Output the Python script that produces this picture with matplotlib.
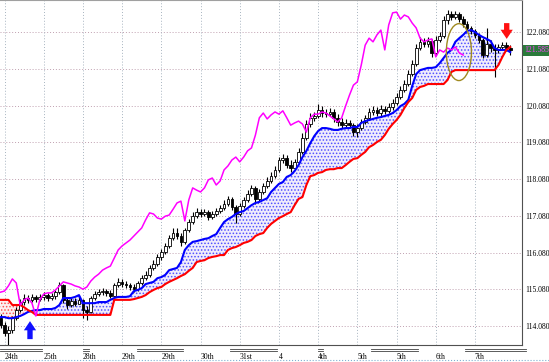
#一目均衡表风格的K线图 (MT4截图复刻)
import numpy as np
import matplotlib.pyplot as plt
import matplotlib.transforms as mtransforms
from matplotlib.patches import Ellipse

plt.rcParams['font.family'] = ['Liberation Serif', 'DejaVu Sans']
plt.rcParams['hatch.linewidth'] = 0.7

# K线数据
opens = [
    114.29, 114.10, 113.89, 113.97, 114.29, 114.51, 114.73, 114.84, 114.79, 114.87,
    114.81, 114.87, 114.92, 114.84, 114.89, 115.00, 115.19, 114.79, 114.65, 114.76,
    114.68, 114.79, 114.51, 114.46, 114.84, 114.95, 115.00, 115.03, 114.98, 114.89,
    115.19, 115.28, 115.22, 115.19, 115.14, 115.08, 115.25, 115.38, 115.47, 115.66,
    115.77, 115.96, 116.09, 116.26, 116.47, 116.61, 116.53, 116.37, 116.69, 116.91,
    117.07, 117.18, 117.13, 117.18, 117.05, 117.13, 117.21, 117.29, 117.40, 117.54,
    117.32, 117.13, 117.35, 117.51, 117.67, 117.84, 117.54, 117.73, 117.89, 118.03,
    118.16, 118.33, 118.60, 118.65, 118.46, 118.38, 118.55, 118.82, 119.20, 119.58,
    119.75, 119.80, 119.96, 119.88, 119.85, 119.91, 119.75, 119.64, 119.55, 119.61,
    119.55, 119.36, 119.47, 119.64, 119.75, 119.91, 119.96, 119.88, 119.99, 119.94,
    120.04, 120.15, 120.32, 120.51, 120.67, 120.94, 121.22, 121.65, 121.82, 121.76,
    121.84, 121.52, 121.87, 121.98, 122.42, 122.58, 122.50, 122.58, 122.44, 122.31,
    122.20, 122.12, 122.01, 121.87, 121.46, 121.76, 121.65, 121.60, 121.68, 121.73,
    121.65]
highs = [
    114.40, 114.19, 114.08, 114.35, 114.59, 114.81, 114.95, 114.92, 114.95, 114.92,
    114.95, 115.00, 114.98, 114.98, 115.06, 115.28, 115.22, 114.87, 114.84, 114.84,
    114.87, 114.81, 114.62, 114.89, 115.03, 115.08, 115.11, 115.08, 115.06, 115.25,
    115.38, 115.36, 115.30, 115.25, 115.22, 115.30, 115.47, 115.58, 115.74, 115.87,
    116.04, 116.17, 116.34, 116.56, 116.75, 116.75, 116.61, 116.75, 116.99, 117.18,
    117.29, 117.26, 117.26, 117.24, 117.21, 117.29, 117.37, 117.51, 117.62, 117.59,
    117.37, 117.43, 117.59, 117.78, 117.92, 117.89, 117.81, 117.97, 118.14, 118.27,
    118.44, 118.68, 118.76, 118.74, 118.60, 118.63, 118.93, 119.34, 119.69, 119.88,
    119.91, 120.13, 120.07, 119.99, 120.02, 119.99, 119.85, 119.75, 119.72, 119.69,
    119.61, 119.58, 119.72, 119.83, 120.02, 120.07, 120.04, 120.10, 120.07, 120.15,
    120.26, 120.42, 120.62, 120.78, 121.05, 121.33, 121.76, 121.95, 121.92, 121.95,
    121.90, 121.98, 122.09, 122.52, 122.69, 122.66, 122.66, 122.63, 122.52, 122.39,
    122.25, 122.17, 122.06, 121.92, 122.20, 121.87, 121.76, 121.76, 121.82, 121.82,
    121.73]
lows = [
    114.02, 113.80, 113.56, 113.89, 114.24, 114.46, 114.65, 114.70, 114.73, 114.73,
    114.76, 114.79, 114.76, 114.79, 114.81, 114.95, 114.70, 114.54, 114.59, 114.62,
    114.68, 114.29, 114.24, 114.43, 114.79, 114.89, 114.92, 114.89, 114.84, 114.87,
    115.14, 115.14, 115.11, 115.06, 115.00, 115.03, 115.19, 115.33, 115.41, 115.60,
    115.71, 115.87, 116.04, 116.20, 116.42, 116.45, 116.26, 116.31, 116.64, 116.86,
    117.02, 117.05, 117.07, 116.97, 116.99, 117.07, 117.16, 117.24, 117.35, 117.24,
    116.88, 117.07, 117.29, 117.46, 117.62, 117.40, 117.48, 117.67, 117.84, 117.97,
    118.11, 118.27, 118.52, 118.38, 118.27, 118.33, 118.49, 118.76, 119.15, 119.50,
    119.66, 119.75, 119.77, 119.77, 119.80, 119.64, 119.53, 119.47, 119.50, 119.47,
    119.25, 119.23, 119.42, 119.58, 119.69, 119.83, 119.80, 119.80, 119.85, 119.88,
    119.96, 120.10, 120.26, 120.45, 120.62, 120.89, 121.16, 121.60, 121.68, 121.68,
    121.41, 121.46, 121.82, 121.92, 122.31, 122.42, 122.44, 122.36, 122.22, 122.12,
    122.03, 121.92, 121.79, 121.38, 121.41, 121.54, 120.86, 121.52, 121.62, 121.57,
    121.46]
closes = [
    114.10, 113.89, 113.97, 114.29, 114.51, 114.73, 114.84, 114.79, 114.87, 114.81,
    114.87, 114.92, 114.84, 114.89, 115.00, 115.19, 114.79, 114.65, 114.76, 114.68,
    114.79, 114.51, 114.46, 114.84, 114.95, 115.00, 115.03, 114.98, 114.89, 115.19,
    115.28, 115.22, 115.19, 115.14, 115.08, 115.25, 115.38, 115.47, 115.66, 115.77,
    115.96, 116.09, 116.26, 116.47, 116.61, 116.53, 116.37, 116.69, 116.91, 117.07,
    117.18, 117.13, 117.18, 117.05, 117.13, 117.21, 117.29, 117.40, 117.54, 117.32,
    117.13, 117.35, 117.51, 117.67, 117.84, 117.54, 117.73, 117.89, 118.03, 118.16,
    118.33, 118.60, 118.65, 118.46, 118.38, 118.55, 118.82, 119.20, 119.58, 119.75,
    119.80, 119.96, 119.88, 119.85, 119.91, 119.75, 119.64, 119.55, 119.61, 119.55,
    119.36, 119.47, 119.64, 119.75, 119.91, 119.96, 119.88, 119.99, 119.94, 120.04,
    120.15, 120.32, 120.51, 120.67, 120.94, 121.22, 121.65, 121.82, 121.76, 121.84,
    121.52, 121.87, 121.98, 122.42, 122.58, 122.50, 122.58, 122.44, 122.31, 122.20,
    122.12, 122.01, 121.87, 121.46, 121.76, 121.65, 121.60, 121.68, 121.73, 121.65,
    121.585]

# 先行スパン (蓝线 / 红线)
span_a = [
    114.32, 114.32, 114.29, 114.29, 114.32, 114.35, 114.40, 114.46, 114.49, 114.51,
    114.51, 114.54, 114.54, 114.54, 114.57, 114.65, 114.84, 114.84, 114.84, 114.87,
    114.92, 114.70, 114.70, 114.70, 114.70, 114.73, 114.73, 114.73, 114.79, 114.84,
    114.87, 114.87, 114.87, 114.89, 115.03, 115.06, 115.11, 115.22, 115.25, 115.28,
    115.38, 115.41, 115.47, 115.60, 115.63, 115.66, 115.82, 116.15, 116.28, 116.37,
    116.39, 116.42, 116.45, 116.47, 116.53, 116.58, 116.75, 116.91, 116.99, 117.05,
    117.13, 117.18, 117.21, 117.29, 117.37, 117.43, 117.46, 117.51, 117.56, 117.73,
    117.84, 117.95, 118.00, 118.14, 118.19, 118.30, 118.46, 118.68, 118.85, 119.06,
    119.25, 119.39, 119.47, 119.47, 119.45, 119.42, 119.42, 119.45, 119.47, 119.47,
    119.50, 119.50, 119.61, 119.66, 119.69, 119.72, 119.75, 119.77, 119.80, 119.83,
    119.88, 119.96, 120.07, 120.13, 120.24, 120.62, 120.94, 121.05, 121.08, 121.11,
    121.11, 121.13, 121.24, 121.38, 121.52, 121.60, 121.82, 121.92, 122.01, 122.12,
    122.14, 122.09, 122.01, 121.95, 121.90, 121.84, 121.65, 121.60, 121.60, 121.60,
    121.54]
span_b = [
    114.79, 114.79, 114.79, 114.65, 114.65, 114.65, 114.59, 114.51, 114.46, 114.38,
    114.38, 114.38, 114.38, 114.38, 114.38, 114.38, 114.38, 114.38, 114.38, 114.38,
    114.38, 114.38, 114.38, 114.38, 114.38, 114.38, 114.38, 114.38, 114.38, 114.79,
    114.79, 114.79, 114.79, 114.79, 114.81, 114.84, 114.87, 114.92, 115.00, 115.06,
    115.11, 115.14, 115.22, 115.28, 115.33, 115.38, 115.44, 115.49, 115.58, 115.66,
    115.82, 115.85, 115.87, 115.93, 115.96, 115.98, 116.01, 116.01, 116.15, 116.20,
    116.23, 116.28, 116.34, 116.37, 116.42, 116.53, 116.58, 116.61, 116.75, 116.86,
    116.94, 117.02, 117.07, 117.13, 117.18, 117.37, 117.54, 117.59, 117.92, 118.16,
    118.19, 118.25, 118.27, 118.33, 118.35, 118.35, 118.38, 118.38, 118.46, 118.55,
    118.63, 118.65, 118.74, 118.82, 118.95, 119.01, 119.09, 119.15, 119.28, 119.45,
    119.58, 119.69, 119.83, 120.02, 120.18, 120.29, 120.51, 120.59, 120.62, 120.67,
    120.67, 120.67, 120.67, 120.67, 120.78, 121.00, 121.05, 121.05, 121.05, 121.05,
    121.05, 121.05, 121.05, 121.05, 121.05, 121.05, 121.05, 121.19, 121.41, 121.60,
    121.68]
# 遅行スパン (紫线)
chikou = [
    115.00, 115.03, 115.17, 115.36, 115.25, 114.65, 114.79, 114.84, 114.70, 114.35,
    114.79, 114.95, 114.98, 114.98, 115.06, 115.17, 115.28, 115.25, 115.22, 115.17,
    115.14, 115.08, 115.14, 115.30, 115.41, 115.49, 115.60, 115.66, 115.71, 115.93,
    116.15, 116.26, 116.34, 116.42, 116.53, 116.64, 116.75, 116.97, 117.16, 117.13,
    117.02, 116.99, 117.07, 117.10, 117.26, 117.43, 117.48, 116.94, 117.51, 117.84,
    117.78, 117.73, 117.84, 118.06, 118.11, 117.92, 118.03, 118.33, 118.44, 118.60,
    118.68, 118.55, 118.68, 118.85, 118.93, 119.28, 119.75, 119.88, 119.72, 119.83,
    119.91, 119.85, 119.94, 119.75, 119.55, 119.61, 119.66, 119.58, 119.36, 119.75,
    119.85, 119.85, 119.91, 119.88, 119.80, 119.72, 119.64, 119.75, 120.07, 120.37,
    120.64, 120.73, 121.19, 121.73, 121.92, 121.82, 122.01, 122.14, 121.60, 122.28,
    122.61, 122.63, 122.44, 122.55, 122.50, 122.33, 122.20, 121.92, 121.82, 121.87,
    121.90, 121.41, 121.60, 121.54, 121.65, 121.60, 121.68, 121.52, 121.46]

price_levels = [114.08, 115.08, 116.08, 117.08, 118.08, 119.08, 120.08, 121.08, 122.08]
date_bars = [1, 11, 21, 31, 41, 51, 61, 71, 81, 91, 101, 111, 121]
date_labels = ['24th', '25th', '28th', '29th', '29th', '30th', '31st', '4', '4th',
               '5th', '5th', '6th', '7th']
sep_spans = [(-0.15, 10.6), (21.0, 22.6), (34.8, 46.5), (58.5, 70.5),
             (81.0, 82.2), (94.5, 106.5), (118.5, 134.0)]
last_price = closes[-1]

fig = plt.figure(figsize=(5.49, 3.62), dpi=100)
ax = fig.add_axes([0, 17 / 362, 522 / 549, 345 / 362])
ax.set_xlim(-0.15, 133.0)
ax.set_ylim(113.56, 122.96)

# 网格
for lv in price_levels:
    ax.axhline(lv, color='#c0a0b0', lw=0.7, ls=(0, (1, 2)), zorder=0)
for b in date_bars:
    ax.axvline(b, color='#a8b4c0', lw=0.7, ls=(0, (1, 2)), zorder=0)

x = np.arange(len(closes))
sa = np.array(span_a)
sb = np.array(span_b)
# 云 (点状填充)
ax.fill_between(x, sa, sb, where=sa >= sb, interpolate=True, facecolor='#f0ecfc',
                edgecolor='#5050ff', hatch='.....', linewidth=0, zorder=1)
ax.fill_between(x, sa, sb, where=sa < sb, interpolate=True, facecolor='#fcf0f0',
                edgecolor='#ff5050', hatch='.....', linewidth=0, zorder=1)

# 蜡烛
o = np.array(opens)
c = np.array(closes)
ax.vlines(x, lows, highs, color='black', lw=0.8, zorder=3)
up = c >= o
body_lo = np.minimum(o, c)
body_h = np.maximum(np.abs(c - o), 0.02)
ax.bar(x[up], body_h[up], bottom=body_lo[up], width=0.7, facecolor='white',
       edgecolor='black', lw=0.6, zorder=4)
ax.bar(x[~up], body_h[~up], bottom=body_lo[~up], width=0.7, facecolor='black',
       edgecolor='black', lw=0.6, zorder=4)

ax.plot(x, span_a, color='#0000ff', lw=1.5, zorder=5)
ax.plot(x, span_b, color='#ff0000', lw=1.5, zorder=5)
ax.plot(np.arange(len(chikou)), chikou, color='#ff00ff', lw=1.1, zorder=6)

# 椭圆和箭头
ax.add_patch(Ellipse((116.9, 121.54), 6.4, 1.55, fill=False, edgecolor='#a08a20',
                     lw=1.0, zorder=7))
arrow_style = 'simple,head_length=0.6,head_width=0.8,tail_width=0.35'
ax.annotate('', xy=(7.5, 114.21), xytext=(7.5, 113.72),
            arrowprops=dict(arrowstyle=arrow_style, color='#1010ff', lw=0,
                            mutation_scale=11, shrinkA=0, shrinkB=0), zorder=8)
ax.annotate('', xy=(129.1, 121.90), xytext=(129.1, 122.33),
            arrowprops=dict(arrowstyle=arrow_style, color='#ff1010', lw=0,
                            mutation_scale=11, shrinkA=0, shrinkB=0), zorder=8)

# 坐标轴
ax.yaxis.tick_right()
ax.set_yticks(price_levels)
ax.set_yticklabels(['%.3f' % v for v in price_levels])
ax.tick_params(axis='y', length=0, pad=2.2, labelsize=5.5)
ax.set_xticks(date_bars)
ax.set_xticklabels(date_labels)
for t in ax.get_xticklabels():
    t.set_ha('left')
ax.tick_params(axis='x', length=0, pad=5.5, labelsize=5.5)

ax.spines['left'].set_visible(False)
ax.spines['right'].set_color('#505050')
ax.spines['bottom'].set_color('#505050')
ax.spines['top'].set_color('#a0a0a0')
ax.spines['top'].set_linewidth(0.8)

# 当前价格
trans = mtransforms.blended_transform_factory(ax.transAxes, ax.transData)
ax.text(1.004, last_price, '%.3f' % last_price, transform=trans, ha='left', va='center',
        fontsize=5.5, color='#ff40ff',
        bbox=dict(facecolor='#2a7a3a', edgecolor='none', pad=1.0))

# 日期下面的双线
trans2 = mtransforms.blended_transform_factory(ax.transData, ax.transAxes)
for a, b in sep_spans:
    for yy in (-0.0116, -0.0174):
        ax.plot([a, b], [yy, yy], color='#404040', lw=0.6, transform=trans2, clip_on=False)

fig.add_artist(plt.Line2D([0, 1], [0.005, 0.005], color='#80b0d0', lw=0.8, ls=':'))

plt.savefig('out.png', dpi=100)
